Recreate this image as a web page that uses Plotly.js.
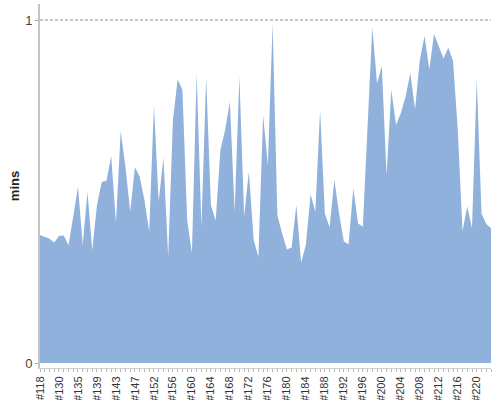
<!DOCTYPE html>
<html>
<head>
<meta charset="utf-8">
<script src="https://cdn.plot.ly/plotly-3.0.1.min.js"></script>
<style>html,body{margin:0;padding:0;background:#fff;}#chart{width:500px;height:400px;}</style>
</head>
<body>
<div id="chart"></div>
<script>
const builds = [
  '#118','#121','#124','#127','#130','#131','#132','#134','#135','#136','#137','#138',
  '#139','#140','#141','#142','#143','#144','#145','#146','#147','#148','#149','#151',
  '#152','#153','#154','#155','#156','#157','#158','#159','#160','#161','#162','#163',
  '#164','#165','#166','#167','#168','#169','#170','#171','#172','#173','#174','#175',
  '#176','#177','#178','#179','#180','#181','#182','#183','#184','#185','#186','#187',
  '#188','#189','#190','#191','#192','#193','#194','#195','#196','#197','#198','#199',
  '#200','#201','#202','#203','#204','#205','#206','#207','#208','#209','#210','#211',
  '#212','#213','#214','#215','#216','#217','#218','#219','#220','#221','#222','#223'
];
const mins = [
  0.373,0.367,0.362,0.351,0.370,0.372,0.343,0.427,0.514,0.344,0.499,0.329,
  0.461,0.528,0.531,0.603,0.409,0.676,0.572,0.441,0.571,0.543,0.475,0.383,
  0.751,0.470,0.599,0.310,0.708,0.827,0.796,0.417,0.320,0.843,0.399,0.832,
  0.461,0.415,0.621,0.679,0.762,0.441,0.835,0.427,0.558,0.359,0.310,0.722,
  0.577,0.990,0.431,0.378,0.331,0.337,0.461,0.292,0.344,0.492,0.441,0.738,
  0.436,0.396,0.534,0.436,0.354,0.346,0.509,0.407,0.397,0.690,0.979,0.815,
  0.866,0.548,0.796,0.694,0.728,0.776,0.845,0.740,0.883,0.953,0.856,0.959,
  0.924,0.888,0.919,0.881,0.680,0.385,0.456,0.393,0.827,0.436,0.405,0.393
];
const yTicks = [0, 1];
const yTickText = ['0', '1'];
const yTitle = 'mins';

const tickText = builds.map((b, i) => (i % 4 === 0 ? b : ''));

const trace = {
  type: 'scatter',
  mode: 'lines',
  x: builds,
  y: mins,
  fill: 'tozeroy',
  fillcolor: 'rgb(143,177,219)',
  line: {width: 0, color: 'rgb(143,177,219)'},
  hoverinfo: 'x+y',
  showlegend: false
};

const layout = {
  width: 500,
  height: 400,
  margin: {l: 40, r: 9, t: 4, b: 32, pad: 0},
  paper_bgcolor: '#ffffff',
  plot_bgcolor: '#ffffff',
  font: {family: 'Liberation Sans, Arial, sans-serif', color: '#333'},
  xaxis: {
    type: 'category',
    range: [0, builds.length - 1],
    tickmode: 'array',
    tickvals: builds,
    ticktext: tickText,
    tickangle: -90,
    ticks: 'outside',
    ticklen: 3,
    tickcolor: '#b8b8b8',
    tickwidth: 1,
    showline: true,
    linecolor: '#d0d0d0',
    linewidth: 1,
    showgrid: false,
    zeroline: false,
    tickfont: {family: 'Liberation Sans, Arial, sans-serif', size: 11, color: '#333'},
    automargin: false,
    fixedrange: true
  },
  yaxis: {
    range: [-0.01458, 1.04665],
    tickmode: 'array',
    tickvals: yTicks,
    ticktext: yTickText,
    ticks: 'outside',
    ticklen: 3,
    tickcolor: '#a0a0a0',
    showline: true,
    linecolor: '#c4c4c4',
    linewidth: 2,
    showgrid: false,
    zeroline: false,
    tickfont: {family: 'Liberation Sans, Arial, sans-serif', size: 13, color: '#444'},
    title: {text: '<b>' + yTitle + '</b>', font: {family: 'Liberation Sans, Arial, sans-serif', size: 13, color: '#222'}, standoff: 3},
    automargin: false,
    fixedrange: true
  },
  shapes: [{
    type: 'line',
    xref: 'paper', x0: 0, x1: 1,
    yref: 'y', y0: 1, y1: 1,
    line: {color: '#8a8a8a', width: 1, dash: '3px,2px'},
    layer: 'below'
  }]
};

Plotly.newPlot('chart', [trace], layout, {displayModeBar: false, staticPlot: true});
</script>
</body>
</html>
